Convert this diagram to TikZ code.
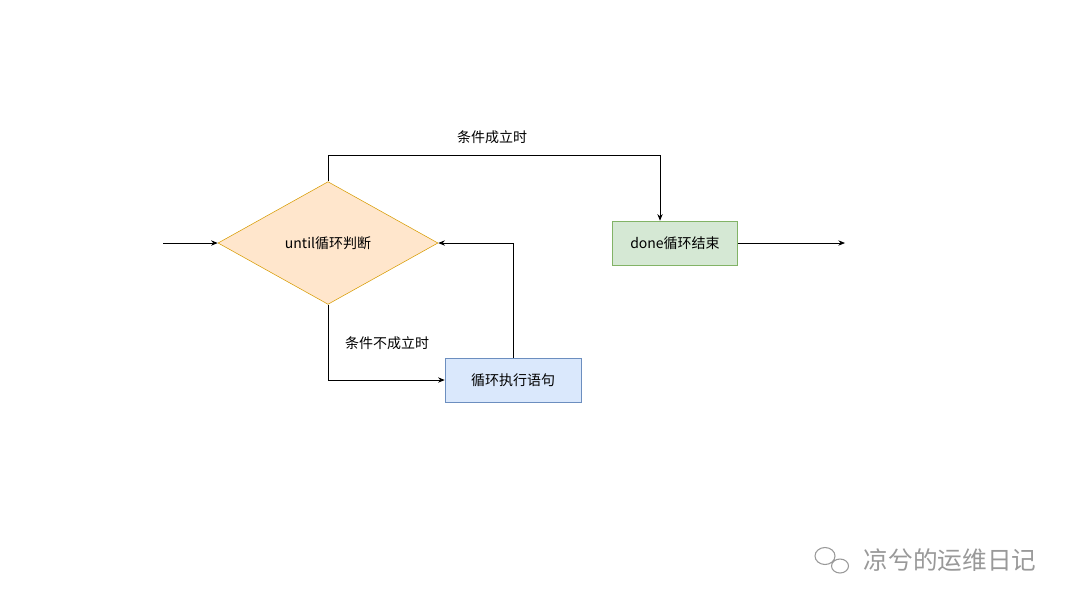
\documentclass[tikz,border=0pt]{standalone}
\usepackage{fontspec}
\setmainfont{Noto Sans CJK SC}
\usetikzlibrary{shapes.geometric,arrows.meta}
\definecolor{ofill}{HTML}{FFE6CC}\definecolor{oline}{HTML}{D79B00}
\definecolor{bfill}{HTML}{DAE8FC}\definecolor{bline}{HTML}{6C8EBF}
\definecolor{gfill}{HTML}{D5E8D4}\definecolor{gline}{HTML}{82B366}
\begin{document}
\begin{tikzpicture}[x=0.75pt,y=-0.75pt,
  lbl/.style={font=\fontsize{10.5}{12}\selectfont},
  box/.style={draw,rectangle,minimum width=102pt,minimum height=33pt,inner sep=0pt,font=\fontsize{10.5}{12}\selectfont},
  arr/.style={draw,-{Stealth[length=5pt,width=4pt]},line width=0.6pt}]
\useasboundingbox (0,0) rectangle (1080,608);
\node[diamond,draw=oline,fill=ofill,aspect=1.79,minimum width=165pt,minimum height=92pt,inner sep=0pt,font=\fontsize{10.5}{12}\selectfont] (d) at (328,243) {until循环判断};
\node[box,draw=bline,fill=bfill] (b) at (513,380) {循环执行语句};
\node[box,draw=gline,fill=gfill,minimum width=94pt] (g) at (675,243) {done循环结束};
\coordinate (in) at (163,243);
\coordinate (out) at (845,243);
\draw[arr] (in) -- (d.west);
\draw[arr] (g.east) -- (out);
\draw[arr] (d.north) |- (660,155) -- (g.north -| 660,0);
\draw[arr] (d.south) |- (b.west);
\draw[arr] (b.north) |- (d.east);
\node[lbl] (l1) at (492,137) {条件成立时};
\node[lbl] (l2) at (387,343) {条件不成立时};
\node[text=gray!80,font=\fontsize{18.5}{20}\selectfont] (w) at (950,560) {凉兮的运维日记};
\draw[gray!80,line width=0.8pt] (825,556) ellipse (10 and 8.5) (840,566) ellipse (8.5 and 7);
\end{tikzpicture}
\end{document}
